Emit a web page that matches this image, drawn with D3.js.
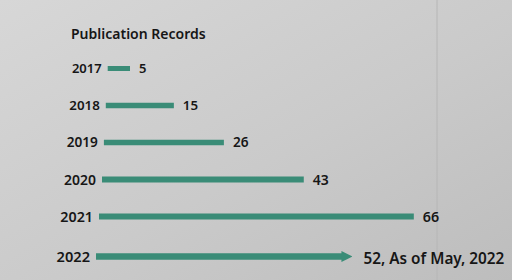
<!DOCTYPE html>
<html>
<head>
<meta charset="utf-8">
<script src="https://cdn.jsdelivr.net/npm/d3@7"></script>
<style>
  html, body { margin: 0; padding: 0; background: #cfcfcf; }
  svg { display: block; }
</style>
</head>
<body>
<div id="chart"></div>
<script>
var title = 'Publication Records';
var years = ['2017', '2018', '2019', '2020', '2021', '2022'];
var counts = [5, 15, 26, 43, 66, 52];
var valueLabels = ['5', '15', '26', '43', '66', '52, As of May, 2022'];

var width = 512, height = 280;
var teal = '#3a8c77';
var ink = '#161616';
var font = '"Noto Sans", sans-serif';

var svg = d3.select('#chart')
	.append('svg')
		.attr('width', width)
		.attr('height', height);

// photographed wall: light grey, darker towards bottom right
var defs = svg.append('defs');
var grad = defs.append('linearGradient')
	.attr('id', 'wall')
	.attr('x1', 0).attr('y1', 0)
	.attr('x2', 1).attr('y2', 1);
grad.append('stop').attr('offset', '0%').attr('stop-color', '#d7d7d7');
grad.append('stop').attr('offset', '55%').attr('stop-color', '#cacaca');
grad.append('stop').attr('offset', '100%').attr('stop-color', '#bdbdbd');

svg.append('rect')
	.attr('width', width)
	.attr('height', height)
	.attr('fill', 'url(#wall)');

// seam in the wall
svg.append('line')
	.attr('x1', 437).attr('x2', 437)
	.attr('y1', 0).attr('y2', height)
	.attr('stroke', '#b6b6b6')
	.attr('stroke-width', 1);

defs.append('marker')
	.attr('id', 'head')
	.attr('viewBox', '0 0 10 10')
	.attr('refX', 1).attr('refY', 5)
	.attr('markerUnits', 'userSpaceOnUse')
	.attr('markerWidth', 11).attr('markerHeight', 16)
	.attr('orient', 'auto')
	.append('path')
		.attr('d', 'M0,0L10,5L0,10Z')
		.attr('fill', teal);

// rows drift slightly because the chart was photographed at an angle
var idx = d3.range(years.length);
var y = d3.scaleLinear().domain([0, 4, 5]).range([68.5, 216.5, 256.5]);
var left = d3.scaleLinear().domain([0, 3, 5]).range([107.7, 102, 96]);
var unit = d3.scaleLinear().domain([0, 4, 5]).range([4.46, 4.77, 4.78]);
var thick = d3.scaleLinear().domain([0, 5]).range([5, 6.5]);
var fsize = d3.scaleLinear().domain([0, 5]).range([13, 14.6]);

var x = function(v, i) {
	return d3.scaleLinear().domain([0, 1]).range([left(i), left(i) + unit(i)])(v);
};

svg.append('text')
	.attr('x', 71)
	.attr('y', 39)
	.attr('font-family', font)
	.attr('font-weight', 600)
	.attr('font-size', 14)
	.attr('fill', ink)
	.text(title);

var rows = svg.selectAll('g.row')
	.data(idx)
	.enter().append('g')
		.attr('class', 'row');

rows.append('line')
	.attr('x1', function(i) { return x(0, i); })
	.attr('x2', function(i) { return x(counts[i], i) - (i === 5 ? 2 : 0); })
	.attr('y1', function(i) { return y(i); })
	.attr('y2', function(i) { return y(i); })
	.attr('stroke', teal)
	.attr('stroke-width', function(i) { return thick(i); })
	.attr('marker-end', function(i) { return i === 5 ? 'url(#head)' : null; });

rows.append('text')
	.attr('x', function(i) { return x(0, i) - 6; })
	.attr('y', function(i) { return y(i); })
	.attr('dy', '0.36em')
	.attr('text-anchor', 'end')
	.attr('font-family', font)
	.attr('font-weight', 600)
	.attr('font-size', function(i) { return fsize(i); })
	.attr('fill', ink)
	.text(function(i) { return years[i]; });

rows.append('text')
	.attr('x', function(i) { return x(counts[i], i) + (i === 5 ? 19 : 9); })
	.attr('y', function(i) { return y(i) + (i === 5 ? 2 : 0); })
	.attr('dy', '0.36em')
	.attr('font-family', font)
	.attr('font-weight', 600)
	.attr('font-size', function(i) { return i === 5 ? 15.3 : fsize(i); })
	.attr('fill', ink)
	.text(function(i) { return valueLabels[i]; });
</script>
</body>
</html>
